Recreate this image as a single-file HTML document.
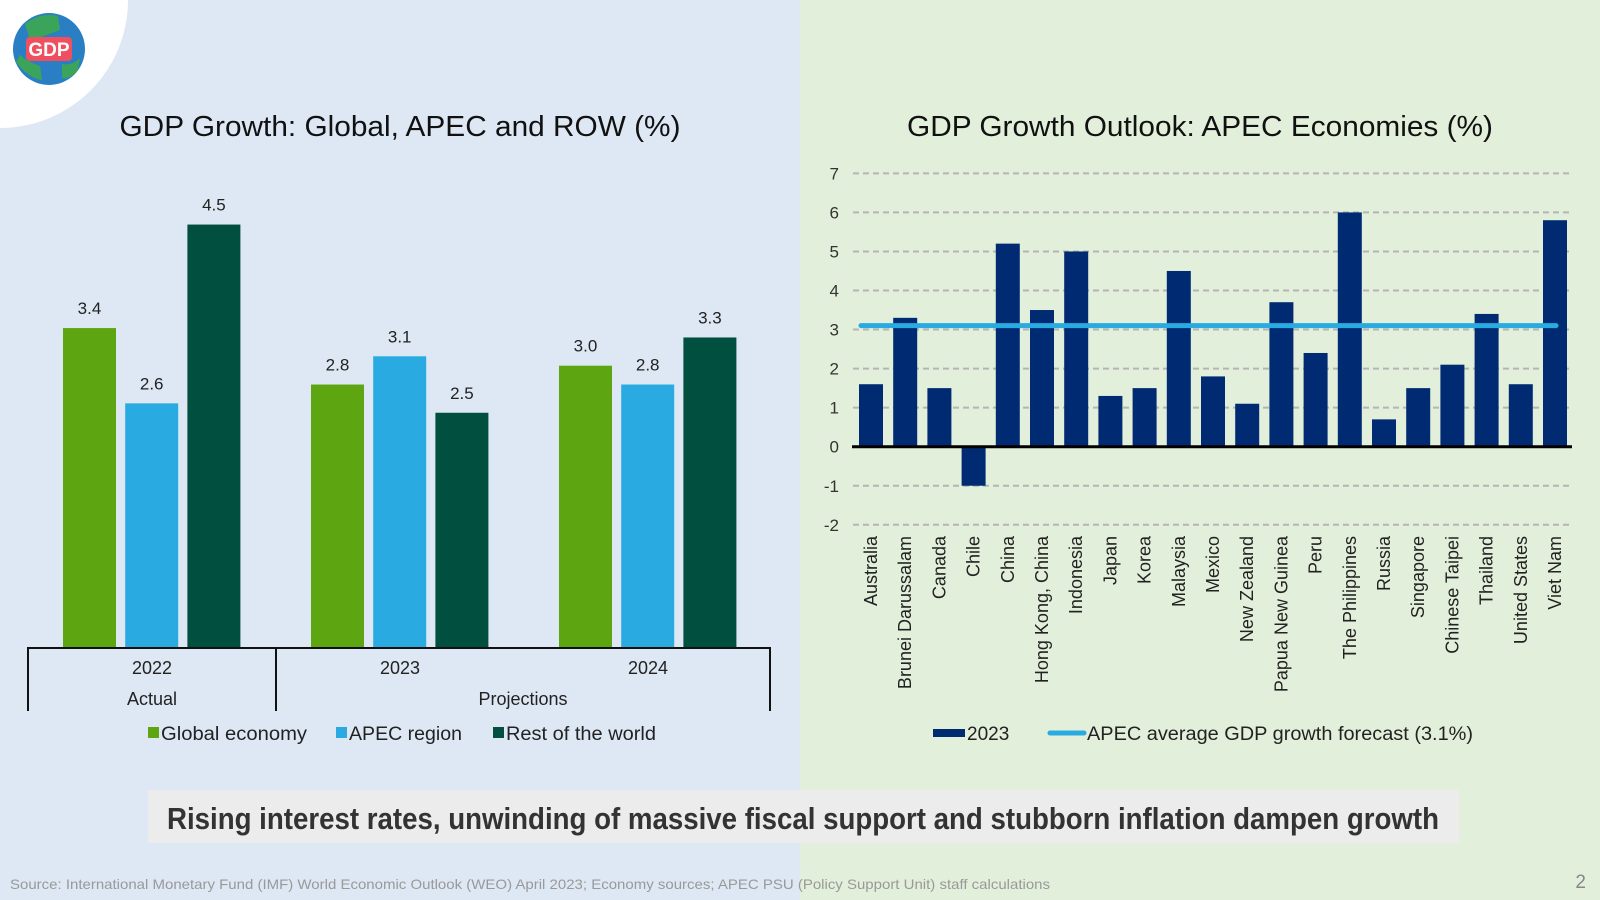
<!DOCTYPE html>
<html><head><meta charset="utf-8"><style>
body{margin:0;width:1600px;height:900px;overflow:hidden;font-family:"Liberation Sans",sans-serif;position:relative;background:#dde8f4}
#right-bg{position:absolute;left:800px;top:0;width:800px;height:900px;background:#e2efda}
svg{position:absolute;left:0;top:0}
</style></head><body>
<div id="right-bg"></div>
<svg width="1600" height="900" id="chart">
<circle cx="0" cy="0" r="128" fill="#fff"/>
<g>
<circle cx="49" cy="49" r="36" fill="#2a7fc4"/>
<path d="M25,24 Q40,12 58,16 L60,30 Q45,36 30,40 Z" fill="#3aa55a"/>
<path d="M20,55 Q28,62 40,66 L42,80 Q28,78 16,62 Z" fill="#3aa55a"/>
<path d="M62,64 Q72,66 80,58 L78,70 Q70,80 62,78 Z" fill="#3aa55a"/>
<rect x="26" y="37" width="46" height="24" rx="4" fill="#ef4f5f"/>
<text x="49" y="56" font-size="19" font-weight="bold" fill="#fff" text-anchor="middle" font-family="Liberation Sans Narrow, Liberation Sans, sans-serif">GDP</text>
</g>
<text x="400" y="136" font-size="29" text-anchor="middle" fill="#111" textLength="561" lengthAdjust="spacingAndGlyphs">GDP Growth: Global, APEC and ROW (%)</text>
<text x="1200" y="136" font-size="29" text-anchor="middle" fill="#111" textLength="586" lengthAdjust="spacingAndGlyphs">GDP Growth Outlook: APEC Economies (%)</text>
<g id="left"></g>
<g id="right"></g>
<rect x="148" y="790" width="1311" height="53" fill="#ececec"/>
<text x="803" y="829" font-size="31" font-weight="bold" text-anchor="middle" fill="#333" textLength="1272" lengthAdjust="spacingAndGlyphs" font-family="Liberation Sans Narrow, Liberation Sans, sans-serif">Rising interest rates, unwinding of massive fiscal support and stubborn inflation dampen growth</text>
<text x="10" y="889" font-size="14" fill="#999" textLength="1040" lengthAdjust="spacingAndGlyphs">Source: International Monetary Fund (IMF) World Economic Outlook (WEO) April 2023; Economy sources; APEC PSU (Policy Support Unit) staff calculations</text>
<text x="1586" y="888" font-size="19" fill="#888" text-anchor="end">2</text>
</svg>
<script>
const years=["2022","2023","2024"];
const globalVals=[3.4,2.8,3.0];
const apecVals=[2.6,3.1,2.8];
const rowVals=[4.5,2.5,3.3];
const countries=["Australia","Brunei Darussalam","Canada","Chile","China","Hong Kong, China","Indonesia","Japan","Korea","Malaysia","Mexico","New Zealand","Papua New Guinea","Peru","The Philippines","Russia","Singapore","Chinese Taipei","Thailand","United States","Viet Nam"];
const growth2023=[1.6,3.3,1.5,-1.0,5.2,3.5,5.0,1.3,1.5,4.5,1.8,1.1,3.7,2.4,6.0,0.7,1.5,2.1,3.4,1.6,5.8];
const apecAvg=3.1;
const yTicks=[7,6,5,4,3,2,1,0,-1,-2];

const NS="http://www.w3.org/2000/svg";
function mk(p,tag,a,txt){const e=document.createElementNS(NS,tag);for(const k in a)e.setAttribute(k,a[k]);if(txt!==undefined)e.textContent=txt;p.appendChild(e);return e;}

// LEFT chart
const L=document.getElementById('left');
const lBase=648, lScale=94.1;
const ly=v=>lBase-v*lScale;
const series=[[globalVals,"#5ea512","global"],[apecVals,"#29abe2","apec"],[rowVals,"#004f3f","row"]];
years.forEach((yr,g)=>{
  series.forEach((s,i)=>{
    const x=63+g*248+i*62.2, v=s[0][g];
    const r=mk(L,'rect',{x:x,y:ly(v),width:53,height:lBase-ly(v),fill:s[1]});
    
    
    const t=mk(L,'text',{x:x+26.5,y:ly(v)-14,'font-size':17,'text-anchor':'middle',fill:'#222'},v.toFixed(1));
    
    
  });
  const t=mk(L,'text',{x:63+g*248+89,y:674,'font-size':18,'text-anchor':'middle',fill:'#222'},yr);
  
  
});
const ax=mk(L,'path',{d:'M28,711 V648 H770 V711 M276,648 V711',stroke:'#111','stroke-width':2,fill:'none'});


const a1=mk(L,'text',{x:152,y:705,'font-size':18,'text-anchor':'middle',fill:'#222'},'Actual');


const a2=mk(L,'text',{x:523,y:705,'font-size':18,'text-anchor':'middle',fill:'#222'},'Projections');


[["Global economy","#5ea512",148,146],["APEC region","#29abe2",336,113],["Rest of the world","#004f3f",493,150]].forEach((l,i)=>{
  const g=mk(L,'g',{});
  
  
  mk(g,'rect',{x:l[2],y:727,width:11,height:11,fill:l[1]});
  mk(g,'text',{x:l[2]+13,y:740,'font-size':19,fill:'#222',textLength:l[3],lengthAdjust:'spacingAndGlyphs'},l[0]);
});

// RIGHT chart
const R=document.getElementById('right');
const rZero=446.7, rScale=39.05;
const ry=v=>rZero-v*rScale;
yTicks.forEach(t=>{
  const lab=mk(R,'text',{x:839,y:ry(t)+6,'font-size':17,'text-anchor':'end',fill:'#333'},String(t));
  
  
  if(t!==0){const gl=mk(R,'line',{x1:853,x2:1572,y1:ry(t),y2:ry(t),stroke:'#b5b5b5','stroke-width':2,'stroke-dasharray':'6,4'});
  
  }
});
const pitch=34.2;
growth2023.forEach((v,i)=>{
  const cx=871+i*pitch;
  const y0=Math.min(ry(v),rZero), h=Math.abs(ry(v)-rZero);
  const b=mk(R,'rect',{x:cx-12,y:y0,width:24,height:h,fill:'#002b73'});
  
  
  const t=mk(R,'text',{x:0,y:0,'font-size':18,'text-anchor':'end',fill:'#222',transform:`translate(${cx+6},536) rotate(-90)`},countries[i]);
  
  
});
const zl=mk(R,'line',{x1:852,x2:1572,y1:rZero,y2:rZero,stroke:'#000','stroke-width':3});


const avg=mk(R,'line',{x1:861,x2:1556,y1:ry(apecAvg),y2:ry(apecAvg),stroke:'#29abe2','stroke-width':5,'stroke-linecap':'round'});


const lg1=mk(R,'g',{});


mk(lg1,'rect',{x:933,y:729,width:32,height:8,fill:'#002b73'});
mk(lg1,'text',{x:967,y:740,'font-size':19,fill:'#222'},'2023');
const lg2=mk(R,'g',{});


mk(lg2,'line',{x1:1050,x2:1084,y1:733,y2:733,stroke:'#29abe2','stroke-width':5,'stroke-linecap':'round'});
mk(lg2,'text',{x:1087,y:740,'font-size':19,fill:'#222',textLength:386,lengthAdjust:'spacingAndGlyphs'},'APEC average GDP growth forecast (3.1%)');
</script>
</body></html>
